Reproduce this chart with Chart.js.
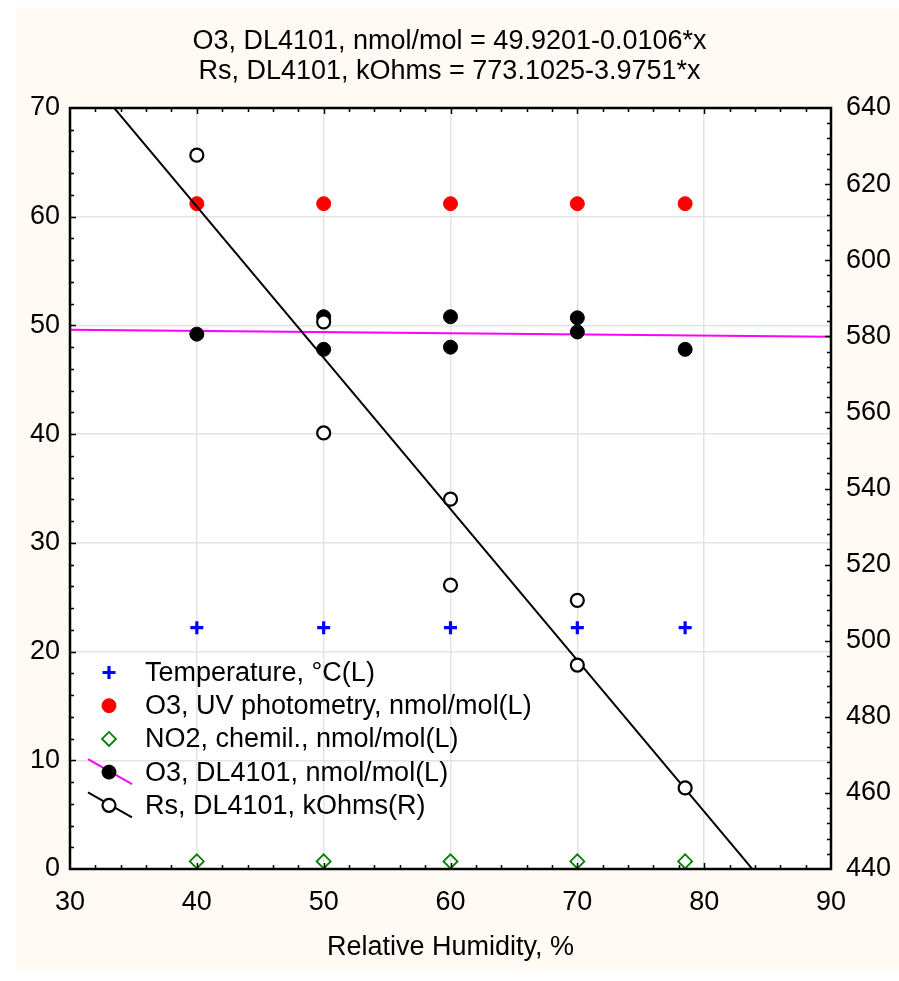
<!DOCTYPE html>
<html>
<head>
<meta charset="utf-8">
<title>O3 / Rs vs relative humidity</title>
<script src="https://cdn.jsdelivr.net/npm/chart.js@4.4.0/dist/chart.umd.min.js"></script>
<style>
  html, body { margin: 0; padding: 0; background: #fff; }
  #wrap { width: 899px; height: 981px; }
</style>
</head>
<body>
<div id="wrap"><canvas id="rhChart" width="899" height="981"></canvas></div>
<script>
// humidity steps of the test run
const rhLevels = [40, 50, 60, 70, 78.5];
const temperature = [22.2, 22.2, 22.2, 22.2, 22.2];
const o3Uv = [61.2, 61.2, 61.2, 61.2, 61.2];
const no2Chemil = [0.7, 0.7, 0.7, 0.7, 0.7];

// DL4101 readings (two per step in the middle of the range)
const dlRh = [40, 50, 50, 60, 60, 70, 70, 78.5];
const o3Dl = [49.2, 50.8, 47.8, 50.8, 48.0, 50.7, 49.4, 47.8];
const rsDl = [627.6, 583.8, 554.6, 537.2, 514.6, 510.6, 493.6, 461.3];

// regression lines from the chart title: [intercept, slope]
const o3Fit = [49.9201, -0.0106];
const rsFit = [773.1025, -3.9751];
const fitRange = [30, 90];

const titleLines = [
  "O3, DL4101, nmol/mol = 49.9201-0.0106*x",
  "Rs, DL4101, kOhms = 773.1025-3.9751*x"
];
const xLabel = "Relative Humidity, %";

const FONT = '"Liberation Sans", Arial, sans-serif';
Chart.defaults.font.family = FONT;
Chart.defaults.color = "#000";

function toPoints(xs, ys) {
  return xs.map((x, i) => ({ x: x, y: ys[i] }));
}
function fitPoints(coef) {
  return fitRange.map((x) => ({ x: x, y: coef[0] + coef[1] * x }));
}

// cream page, white plot area
const background = {
  id: "background",
  beforeDraw(chart) {
    const ctx = chart.ctx;
    const a = chart.chartArea;
    ctx.save();
    ctx.fillStyle = "#fff";
    ctx.fillRect(0, 0, chart.width, chart.height);
    ctx.fillStyle = "#fffaf3";
    ctx.fillRect(16, 7, chart.width - 16, 964);
    ctx.fillStyle = "#fff";
    ctx.fillRect(a.left, a.top, a.right - a.left, a.bottom - a.top);
    ctx.restore();
  }
};

// black frame with inward ticks on all four sides
const frameTicks = {
  id: "frameTicks",
  afterDatasetsDraw(chart) {
    const ctx = chart.ctx;
    const a = chart.chartArea;
    const x = chart.scales.x, y = chart.scales.y, y1 = chart.scales.y1;
    ctx.save();
    ctx.strokeStyle = "#000";
    ctx.lineWidth = 1.5;
    ctx.beginPath();
    for (let v = 32; v < 90; v += 2) {
      const px = Math.round(x.getPixelForValue(v)) + 0.5;
      const len = v % 10 == 0 ? 6 : 4;
      ctx.moveTo(px, a.bottom); ctx.lineTo(px, a.bottom - len);
      ctx.moveTo(px, a.top); ctx.lineTo(px, a.top + len);
    }
    for (let v = 2; v < 70; v += 2) {
      const py = Math.round(y.getPixelForValue(v)) + 0.5;
      const len = v % 10 == 0 ? 6 : 4;
      ctx.moveTo(a.left, py); ctx.lineTo(a.left + len, py);
    }
    for (let v = 444; v < 640; v += 4) {
      const py = Math.round(y1.getPixelForValue(v)) + 0.5;
      const len = v % 20 == 0 ? 6 : 4;
      ctx.moveTo(a.right, py); ctx.lineTo(a.right - len, py);
    }
    ctx.stroke();
    ctx.lineWidth = 2.5;
    ctx.strokeRect(a.left, a.top, a.right - a.left, a.bottom - a.top);
    ctx.restore();
  }
};

// legend inside the plot, lower left (marker + optional fit line)
const legendRows = [
  { pts: 0, line: null },
  { pts: 1, line: null },
  { pts: 2, line: null },
  { pts: 3, line: 5 },
  { pts: 4, line: 6 }
];
const innerLegend = {
  id: "innerLegend",
  afterDraw(chart) {
    const ctx = chart.ctx;
    const ds = chart.data.datasets;
    ctx.save();
    legendRows.forEach((row, i) => {
      const cy = 672.5 + i * 33.2;
      const cx = 109;
      if (row.line != null) {
        ctx.strokeStyle = ds[row.line].borderColor;
        ctx.lineWidth = ds[row.line].borderWidth;
        ctx.beginPath();
        ctx.moveTo(cx - 21, cy - 13);
        ctx.lineTo(cx + 23, cy + 12);
        ctx.stroke();
      }
      const d = ds[row.pts];
      ctx.fillStyle = d.backgroundColor;
      ctx.strokeStyle = d.borderColor;
      ctx.lineWidth = d.borderWidth;
      Chart.helpers.drawPoint(ctx, {
        pointStyle: d.pointStyle,
        radius: d.pointRadius,
        borderWidth: d.borderWidth,
        rotation: 0
      }, cx, cy);
      ctx.fillStyle = "#000";
      ctx.font = "27px " + FONT;
      ctx.textBaseline = "middle";
      ctx.textAlign = "left";
      ctx.fillText(d.label, 145, cy + 1);
    });
    ctx.restore();
  }
};

const gridColor = "#e3e3e3";

new Chart(document.getElementById("rhChart"), {
  type: "scatter",
  data: {
    datasets: [
      {
        label: "Temperature, °C(L)",
        data: toPoints(rhLevels, temperature),
        pointStyle: "cross", pointRadius: 6.5, borderWidth: 3.2,
        borderColor: "#0000ff", backgroundColor: "#0000ff",
        yAxisID: "y", order: 3
      },
      {
        label: "O3, UV photometry, nmol/mol(L)",
        data: toPoints(rhLevels, o3Uv),
        pointStyle: "circle", pointRadius: 7, borderWidth: 1,
        borderColor: "#ff0000", backgroundColor: "#ff0000",
        yAxisID: "y", order: 6
      },
      {
        label: "NO2, chemil., nmol/mol(L)",
        data: toPoints(rhLevels, no2Chemil),
        pointStyle: "rectRot", pointRadius: 7, borderWidth: 1.8,
        borderColor: "#008000", backgroundColor: "rgba(255,255,255,0)",
        yAxisID: "y", order: 4
      },
      {
        label: "O3, DL4101, nmol/mol(L)",
        data: toPoints(dlRh, o3Dl),
        pointStyle: "circle", pointRadius: 7, borderWidth: 1,
        borderColor: "#000", backgroundColor: "#000",
        yAxisID: "y", order: 2
      },
      {
        label: "Rs, DL4101, kOhms(R)",
        data: toPoints(dlRh, rsDl),
        pointStyle: "circle", pointRadius: 6.5, borderWidth: 2.2,
        borderColor: "#000", backgroundColor: "#fff",
        yAxisID: "y1", order: 1
      },
      {
        label: "O3 fit",
        data: fitPoints(o3Fit),
        showLine: true, pointRadius: 0, borderWidth: 2,
        borderColor: "#ff00ff", backgroundColor: "#ff00ff",
        yAxisID: "y", order: 7
      },
      {
        label: "Rs fit",
        data: fitPoints(rsFit),
        showLine: true, pointRadius: 0, borderWidth: 2,
        borderColor: "#000", backgroundColor: "#000",
        yAxisID: "y1", order: 5
      }
    ]
  },
  options: {
    responsive: false,
    animation: false,
    events: [],
    layout: { padding: 0 },
    plugins: {
      legend: { display: false },
      tooltip: { enabled: false },
      title: {
        display: true,
        text: titleLines,
        color: "#000",
        font: { size: 27, weight: "normal", lineHeight: 1.1 },
        padding: { top: 27, bottom: 21.6 }
      }
    },
    scales: {
      x: {
        type: "linear", position: "bottom", min: 30, max: 90,
        afterFit: (s) => { s.height = 112; },
        ticks: { stepSize: 10, padding: 17, font: { size: 27 }, color: "#000", maxRotation: 0 },
        grid: { color: gridColor, lineWidth: 1.5, drawTicks: false },
        border: { display: false },
        title: {
          display: true, text: xLabel, color: "#000",
          font: { size: 27 }, padding: { top: 0, bottom: 17 }
        }
      },
      y: {
        type: "linear", position: "left", min: 0, max: 70,
        afterFit: (s) => { s.width = 70; },
        ticks: { stepSize: 10, padding: 10, font: { size: 27 }, color: "#000" },
        grid: { color: gridColor, lineWidth: 1.5, drawTicks: false },
        border: { display: false }
      },
      y1: {
        type: "linear", position: "right", min: 440, max: 640,
        afterFit: (s) => { s.width = 68; },
        ticks: { stepSize: 20, padding: 15, font: { size: 27 }, color: "#000" },
        grid: { drawOnChartArea: false, drawTicks: false },
        border: { display: false }
      }
    }
  },
  plugins: [background, frameTicks, innerLegend]
});
</script>
</body>
</html>
